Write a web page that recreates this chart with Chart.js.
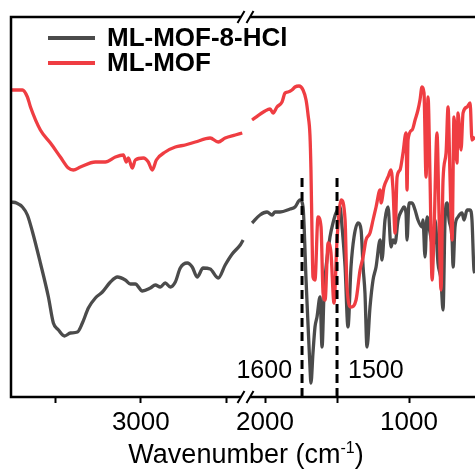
<!DOCTYPE html>
<html>
<head>
<meta charset="utf-8">
<script src="https://cdn.jsdelivr.net/npm/chart.js"></script>
<style>
  html, body { margin: 0; padding: 0; background: #fff; overflow: hidden; }
</style>
</head>
<body>
<canvas id="ir-chart" width="475" height="470"></canvas>
<script>
// Series names / colours
const seriesNames = ['ML-MOF-8-HCl', 'ML-MOF'];
const seriesColors = ['#4b4b4b', '#ef3d42'];

// Axis ranges (cm-1) of the two panels of the broken axis
const highRange = [2390, 3760];
const lowRange = [542, 2139];
const highTicks = [3500, 3000, 2500];
const lowTicks = [2000, 1500, 1000];
const highTickLabels = [3000];
const lowTickLabels = [2000, 1000];

// [wavenumber, transmittance (a.u.)] - high wavenumber panel
const hclHigh = [
  [3757, 195], [3728, 194], [3693, 190], [3664, 182], [3634, 165], [3588, 134],
  [3541, 100], [3512, 74], [3482, 67], [3447, 61], [3412, 64], [3371, 65],
  [3342, 74], [3307, 89], [3266, 99], [3225, 105], [3178, 115], [3137, 120],
  [3091, 117], [3061, 113], [3032, 113], [2991, 106], [2944, 109], [2915, 112],
  [2886, 110], [2857, 114], [2827, 110], [2798, 115], [2769, 129], [2728, 134],
  [2699, 130], [2670, 120], [2635, 129], [2594, 128], [2547, 119], [2506, 132],
  [2465, 143], [2418, 152], [2401, 157]
];
const mofHigh = [
  [3757, 307], [3693, 307], [3664, 300], [3646, 290], [3588, 267], [3529, 254],
  [3471, 240], [3424, 229], [3395, 227], [3354, 230], [3266, 235], [3208, 235],
  [3149, 240], [3102, 242], [3085, 235], [3073, 239], [3050, 229], [3032, 237],
  [2985, 239], [2956, 235], [2933, 227], [2909, 237], [2857, 245], [2798, 250],
  [2740, 252], [2681, 255], [2594, 259], [2547, 255], [2506, 259], [2447, 262],
  [2406, 264]
];

// low wavenumber panel
const hclLow = [
  [2090, 174], [2035, 182], [1986, 185], [1951, 182], [1931, 185], [1896, 185],
  [1826, 188], [1792, 190], [1757, 197], [1736, 190], [1715, 117], [1688, 30],
  [1681, 14], [1667, 44], [1653, 70], [1639, 80], [1618, 100], [1604, 50],
  [1590, 104], [1576, 130], [1549, 160], [1528, 174], [1507, 184], [1479, 190],
  [1465, 170], [1444, 130], [1424, 70], [1403, 130], [1382, 160], [1354, 174],
  [1333, 167], [1319, 130], [1306, 104], [1292, 50], [1271, 90], [1250, 117],
  [1229, 130], [1201, 157], [1188, 137], [1167, 177], [1146, 190], [1125, 150],
  [1111, 157], [1097, 154], [1076, 177], [1049, 187], [1035, 190], [1021, 184],
  [1014, 157], [1000, 194], [979, 194], [958, 187], [938, 177], [910, 170],
  [903, 177], [889, 140], [875, 180], [854, 164], [833, 150], [819, 177],
  [799, 134], [778, 117], [764, 87], [750, 177], [736, 194], [722, 177],
  [701, 157], [694, 130], [681, 170], [660, 180], [632, 184], [618, 177],
  [597, 187], [576, 187], [563, 177], [549, 127], [542, 124]
];
const mofLow = [
  [2090, 277], [2000, 286], [1965, 288], [1944, 284], [1917, 290], [1882, 295],
  [1861, 304], [1840, 305], [1813, 307], [1792, 310], [1764, 311], [1736, 307],
  [1715, 297], [1701, 282], [1688, 262], [1681, 227], [1674, 167], [1667, 120],
  [1653, 117], [1632, 180], [1611, 170], [1597, 104], [1583, 97], [1562, 154],
  [1542, 144], [1521, 94], [1500, 157], [1472, 197], [1444, 177], [1431, 110],
  [1403, 90], [1368, 97], [1340, 127], [1319, 140], [1299, 157], [1271, 164],
  [1250, 177], [1229, 190], [1201, 207], [1194, 194], [1174, 210], [1146, 220],
  [1125, 227], [1111, 207], [1097, 164], [1083, 220], [1063, 227], [1042, 244],
  [1021, 264], [1014, 207], [1007, 257], [979, 267], [958, 277], [938, 287],
  [924, 297], [910, 310], [896, 304], [882, 220], [868, 300], [854, 217],
  [840, 117], [826, 167], [806, 264], [792, 184], [778, 107], [764, 217],
  [743, 244], [729, 290], [715, 217], [701, 157], [688, 280], [667, 234],
  [660, 284], [639, 247], [625, 284], [597, 290], [576, 294], [563, 257],
  [542, 260]
];

// dashed marker lines and their labels
const markerWn = [1743, 1500];
const markerLabels = ['1600', '1500'];
const markerTop = 222;
const markerLabelY = 26;

const FONT = "'Liberation Sans', Arial, Helvetica, sans-serif";

function toPoints(pairs) {
    return pairs.map(([x, y]) => ({ x, y }));
}

function curve(pairs, idx, axis) {
    return {
        label: seriesNames[idx],
        data: toPoints(pairs),
        xAxisID: axis,
        borderColor: seriesColors[idx],
        borderWidth: 3.3,
        pointRadius: 0,
        cubicInterpolationMode: 'monotone',
        order: idx === 1 ? 1 : 2
    };
}

const datasets = [
    curve(hclHigh, 0, 'xHigh'),
    curve(hclLow, 0, 'xLow'),
    curve(mofHigh, 1, 'xHigh'),
    curve(mofLow, 1, 'xLow')
];
markerWn.forEach(wn => {
    datasets.push({
        label: 'marker',
        data: [{ x: wn, y: 0 }, { x: wn, y: markerTop }],
        xAxisID: 'xLow',
        borderColor: '#000',
        borderWidth: 3,
        borderDash: [9, 5],
        pointRadius: 0,
        order: 0
    });
});

// frame with axis break, legend, marker labels and axis title
const decor = {
    id: 'decor',
    afterDatasetsDraw(chart) {
        const { ctx, chartArea: a, scales } = chart;
        const cut = scales.xHigh.right;
        const g0 = cut - 4, g1 = cut + 5;
        ctx.save();
        ctx.strokeStyle = '#000';
        ctx.lineWidth = 2.5;
        ctx.beginPath();
        ctx.moveTo(g0, a.top); ctx.lineTo(a.left, a.top);
        ctx.lineTo(a.left, a.bottom); ctx.lineTo(g0, a.bottom);
        ctx.moveTo(g1, a.top); ctx.lineTo(a.right + 5, a.top);
        ctx.moveTo(g1, a.bottom); ctx.lineTo(a.right + 5, a.bottom);
        ctx.stroke();

        // the // marks
        ctx.lineWidth = 2;
        ctx.beginPath();
        [a.top, a.bottom].forEach(y => {
            [g0, g1].forEach(x => {
                ctx.moveTo(x - 3.5, y + 6);
                ctx.lineTo(x + 3.5, y - 6);
            });
        });
        ctx.stroke();

        // legend
        ctx.font = 'bold 26px ' + FONT;
        ctx.textBaseline = 'middle';
        ctx.textAlign = 'left';
        seriesNames.forEach((name, i) => {
            const y = a.top + 21 + i * 25;
            ctx.strokeStyle = seriesColors[i];
            ctx.lineWidth = 4;
            ctx.beginPath();
            ctx.moveTo(a.left + 37, y);
            ctx.lineTo(a.left + 84, y);
            ctx.stroke();
            ctx.fillStyle = '#000';
            ctx.fillText(name, a.left + 96, y + 1);
        });

        // marker labels
        ctx.font = '25px ' + FONT;
        const ly = scales.y.getPixelForValue(markerLabelY);
        markerWn.forEach((wn, i) => {
            const px = scales.xLow.getPixelForValue(wn);
            ctx.textAlign = i === 0 ? 'right' : 'left';
            ctx.fillText(markerLabels[i], i === 0 ? px - 10 : px + 11, ly);
        });

        // axis title with superscript
        const main = 'Wavenumber (cm', sup = '-1', close = ')';
        ctx.textBaseline = 'alphabetic';
        ctx.textAlign = 'left';
        ctx.font = '27px ' + FONT;
        const w1 = ctx.measureText(main).width;
        const w3 = ctx.measureText(close).width;
        ctx.font = '16px ' + FONT;
        const w2 = ctx.measureText(sup).width;
        const cx = (a.left + a.right) / 2 + 3;
        let x = cx - (w1 + w2 + w3) / 2;
        const base = 463;
        ctx.font = '27px ' + FONT;
        ctx.fillText(main, x, base);
        x += w1;
        ctx.font = '16px ' + FONT;
        ctx.fillText(sup, x, base - 10);
        x += w2;
        ctx.font = '27px ' + FONT;
        ctx.fillText(close, x, base);
        ctx.restore();
    }
};

function xAxis(range, weight, tickValues, labels) {
    return {
        type: 'linear',
        position: 'bottom',
        stack: 'wn',
        stackWeight: weight,
        min: range[0],
        max: range[1],
        reverse: true,
        grid: { drawOnChartArea: false, drawTicks: true, tickLength: 6, tickWidth: 2, tickColor: '#000' },
        border: { display: false },
        afterBuildTicks: s => { s.ticks = tickValues.map(v => ({ value: v })); },
        ticks: {
            autoSkip: false,
            maxRotation: 0,
            padding: 4,
            color: '#000',
            font: { family: FONT, size: 26 },
            callback: v => labels.includes(v) ? String(v) : ''
        },
        afterFit: s => {
            s.height = 73;
            s.paddingLeft = 0;
            s.paddingRight = 0;
        }
    };
}

new Chart(document.getElementById('ir-chart'), {
    type: 'line',
    data: { datasets },
    options: {
        responsive: false,
        animation: false,
        devicePixelRatio: 1,
        layout: { padding: { left: 11, top: 17, right: 0, bottom: 0 } },
        plugins: { legend: { display: false }, tooltip: { enabled: false } },
        scales: {
            xHigh: xAxis(highRange, 234, highTicks, highTickLabels),
            xLow: xAxis(lowRange, 230, lowTicks, lowTickLabels),
            y: { display: false, min: 0, max: 380 }
        }
    },
    plugins: [decor]
});
</script>
</body>
</html>
